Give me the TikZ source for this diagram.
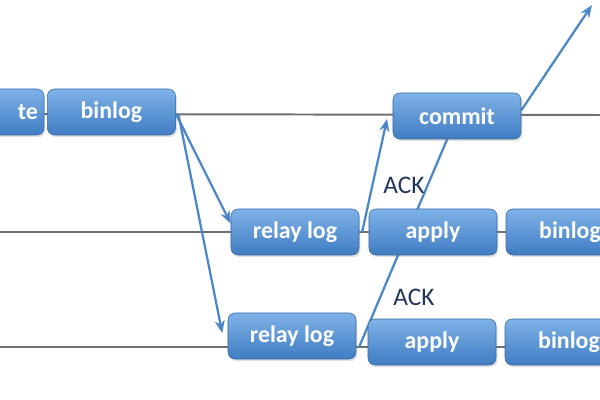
\documentclass[tikz,border=0pt]{standalone}
\usepackage{fontspec}
\setmainfont{Carlito}
\usetikzlibrary{positioning,arrows.meta,backgrounds,shadows}
\definecolor{boxtop}{HTML}{7EB2E8}
\definecolor{boxbot}{HTML}{407CC2}
\definecolor{boxline}{HTML}{3A6AA6}
\definecolor{flowblue}{HTML}{4A86C8}
\definecolor{acknavy}{HTML}{22365A}
\definecolor{timegray}{HTML}{707070}

\begin{document}
\begin{tikzpicture}[x=0.025cm,y=0.025cm,
                logbox/.style = {draw=boxline, line width=0.4pt, rounded corners=5pt,
                                 top color=boxtop, bottom color=boxbot,
                                 minimum width=3.2cm, minimum height=1.15cm,
                                 text=white, font=\fontsize{17}{19}\selectfont\bfseries,
                                 drop shadow={opacity=0.25, shadow xshift=1pt, shadow yshift=-1.5pt}},
                timeline/.style = {color=timegray, line width=1.4pt},
                flow/.style = {color=flowblue, line width=1.6pt, -{Stealth[length=9pt,width=7pt]}},
                acktext/.style = {text=acknavy, font=\fontsize{18}{20}\selectfont}]
                \useasboundingbox (0,0) rectangle (600,400);
                % master
                \node[logbox, text width=2.9cm, align=right] (write) at (-20,288) {te};
                \node[logbox] (bin1) [right=2pt of write] {binlog};
                \node[logbox] (commit) at (457,284) {commit};
                % slave 1
                \node[logbox] (relay1) at (295,168) {relay log};
                \node[logbox] (apply1) at (433,168) {apply};
                \node[logbox] (bin2) [right=6pt of apply1] {binlog};
                % slave 2
                \node[logbox] (relay2) at (292,64) {relay log};
                \node[logbox] (apply2) at (432,58) {apply};
                \node[logbox] (bin3) [right=6pt of apply2] {binlog};
                % ack labels
                \node[acktext] (ack1) at (404,215) {ACK};
                \node[acktext] (ack2) at (414,103) {ACK};
                \coordinate (t1a) at (0,286);
                \coordinate (t1b) at (600,285);
                \coordinate (t2a) at (0,168);
                \coordinate (t2b) at (600,168);
                \coordinate (t3a) at (0,53);
                \coordinate (t3b) at (600,53);
                \coordinate (upper) at (592,395);
                \begin{pgfonlayer}{background}
                \path[timeline]
                    (t1a) edge (t1b)
                    (t2a) edge (t2b)
                    (t3a) edge (t3b);
                \path[flow]
                    ([yshift=-1pt]bin1.east) edge ([yshift=6pt]relay1.west)
                    ([xshift=2pt,yshift=-2pt]bin1.east) edge ([xshift=-6pt,yshift=2pt]relay1.west |- relay2.west)
                    ([xshift=2pt]relay1.east) edge ([xshift=-4pt,yshift=-2pt]commit.west)
                    ([yshift=4pt]commit.east) edge (upper)
                    ([xshift=2pt]relay2.east |- t3a) edge (commit.center);
                \end{pgfonlayer}
            \end{tikzpicture}
\end{document}
